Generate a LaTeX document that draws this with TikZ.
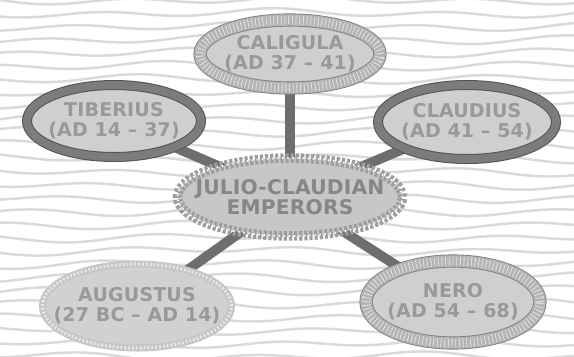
\documentclass[tikz,border=0pt]{standalone}
\usepackage{fontspec}
\newfontfamily\embfont[LetterSpace=1]{DejaVu Sans}
\usetikzlibrary{shapes.geometric,backgrounds}

\definecolor{bargray}{HTML}{6E6E6E}
\definecolor{wavegray}{HTML}{DADADA}
\definecolor{ovalfill}{HTML}{CFCFCF}
\definecolor{ringdark}{HTML}{7C7C7C}
\definecolor{ringedge}{HTML}{555555}
\definecolor{ringlite}{HTML}{B4B4B4}
\definecolor{ringfaint}{HTML}{C6C6C6}
\definecolor{leafgray}{HTML}{9E9E9E}
\definecolor{embtext}{HTML}{999999}
\definecolor{coretext}{HTML}{868686}

\begin{document}
\begin{tikzpicture}[x=0.02cm, y=-0.02cm,
  every node/.style={font=\embfont\bfseries\fontsize{10.8}{11.6}\selectfont,
    align=center, text=embtext},
  emp/.style={ellipse, inner ysep=0pt, inner xsep=-20pt, fill=ovalfill},
  darkring/.style={emp, draw=ringedge, line width=0.6pt,
    double=ringdark, double distance=4.5pt},
  litering/.style={emp, draw=gray, line width=0.5pt,
    double=ringlite, double distance=6.5pt,
    postaction={draw=white, opacity=0.6, line width=5pt, dash pattern=on 0.5pt off 1.6pt}},
  faintring/.style={emp, fill=ovalfill!95!white, draw=ringfaint, line width=4pt,
    postaction={draw=white!60!ringfaint, line width=1.8pt, dash pattern=on 1pt off 1.2pt}},
  wreath/.style={emp, fill=ovalfill!96!black, draw=leafgray, line width=5.4pt,
    dash pattern=on 1.8pt off 1.1pt,
    postaction={draw=white, line width=1pt, dash pattern=on 0.8pt off 2.1pt}},
  bar/.style={draw=bargray, line width=5.6pt},
  wave/.style={draw=wavegray, line width=1.4pt, line cap=round}]

\useasboundingbox (0,0) rectangle (574,356);

%% Centre
\node[wreath, minimum width=4.5cm, minimum height=1.56cm,
      text=coretext, font=\embfont\bfseries\fontsize{11.5}{11.6}\selectfont]
  (core) at (290,197) {JULIO-CLAUDIAN\\EMPERORS};

%% Emperors
\node[litering, minimum width=3.6cm, minimum height=1.36cm]
  (caligula) at (290,54) {CALIGULA\\(AD 37 – 41)};
\node[darkring, minimum width=3.48cm, minimum height=1.44cm]
  (tiberius) at (114,121) {TIBERIUS\\(AD 14 – 37)};
\node[darkring, minimum width=3.56cm, minimum height=1.48cm]
  (claudius) at (467,122) {CLAUDIUS\\(AD 41 – 54)};
\node[faintring, minimum width=3.78cm, minimum height=1.68cm]
  (augustus) at (137,306) {AUGUSTUS\\(27 BC – AD 14)};
\node[litering, minimum width=3.48cm, minimum height=1.64cm]
  (nero) at (453,302) {NERO\\(AD 54 – 68)};

%% Background and bars
\begin{scope}[on background layer]
  \fill[white] (0,0) rectangle (574,356);
  \foreach \i in {0,...,27}
    \draw[wave] plot[domain=-10:584, samples=60, smooth]
      (\x, {\i*13.2 + 3*sin(\x*2.1+\i*57) + 2*sin(\x*0.9+\i*23)});
  \foreach \n in {caligula,tiberius,claudius,augustus,nero}
    \draw[bar] (core.center) -- (\n.center);
\end{scope}

\end{tikzpicture}
\end{document}
